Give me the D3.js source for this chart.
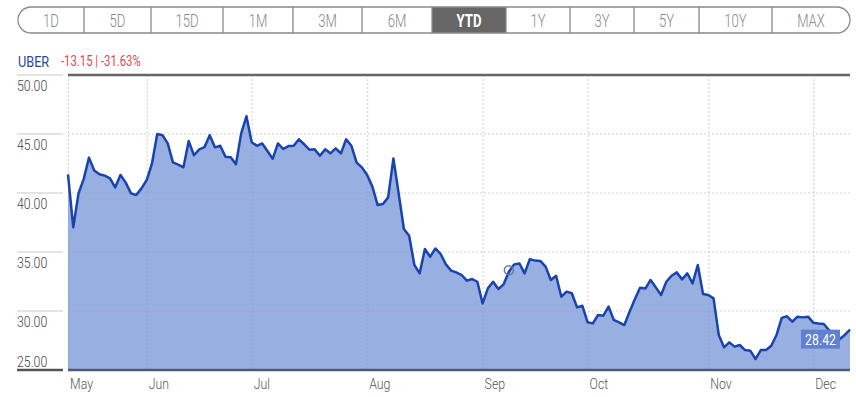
<!DOCTYPE html>
<html>
<head>
<meta charset="utf-8">
<script src="https://cdn.jsdelivr.net/npm/d3@7"></script>
<style>
  html, body { margin: 0; padding: 0; background: #fff; }
  svg { display: block; font-family: Roboto, 'Open Sans', sans-serif; }
</style>
</head>
<body>
<svg id="chart" width="856" height="397"></svg>
<script>
// data (one close per trading day, May 10 -> Dec 11)
const symbol = 'UBER';
const change = '-13.15 | -31.63%';
const closes = [
  41.57, 37.10, 39.96, 41.20, 43.00, 41.91, 41.59, 41.47, 41.24, 40.48,
  41.53, 40.88, 39.97, 39.83, 40.39, 41.10, 42.50, 45.00, 44.90, 44.20,
  42.60, 42.40, 42.18, 44.40, 43.20, 43.70, 43.88, 44.90, 43.87, 44.00,
  43.08, 43.03, 42.43, 45.05, 46.50, 44.30, 44.00, 44.20, 43.56, 42.90,
  44.20, 43.73, 43.98, 44.00, 44.55, 44.13, 43.67, 43.70, 43.16, 43.70,
  43.36, 43.78, 43.36, 44.55, 44.00, 42.57, 42.17, 41.53, 40.54, 38.98,
  39.07, 39.63, 42.93, 39.97, 36.95, 36.38, 33.90, 33.19, 35.25, 34.60,
  35.30, 34.83, 33.95, 33.42, 33.27, 33.05, 32.57, 32.71, 32.48, 30.64,
  31.92, 32.48, 31.86, 32.26, 33.33, 33.95, 34.03, 33.19, 34.40, 34.27,
  34.24, 33.76, 32.63, 32.99, 31.21, 31.64, 31.50, 30.31, 30.45, 29.04,
  28.95, 29.66, 29.60, 30.37, 29.24, 29.04, 28.81, 29.94, 30.99, 31.97,
  31.90, 32.63, 32.00, 31.36, 32.48, 32.99, 33.27, 32.68, 33.19, 32.34,
  33.90, 31.44, 31.36, 31.07, 27.97, 26.92, 27.34, 26.98, 27.12, 26.69,
  26.64, 25.93, 26.69, 26.69, 27.06, 27.97, 29.42, 29.55, 29.09, 29.52,
  29.46, 29.52, 29.01, 28.95, 28.90, 28.39, 27.82, 27.60, 27.97, 28.42
];
// first trading day of each month, as index into closes
const monthLabels = ['May', 'Jun', 'Jul', 'Aug', 'Sep', 'Oct', 'Nov', 'Dec'];
const monthStart = [0, 15, 35, 57, 79, 99, 122, 142];
const yTicks = [50, 45, 40, 35, 30, 25];
const ranges = ['1D', '5D', '15D', '1M', '3M', '6M', 'YTD', '1Y', '3Y', '5Y', '10Y', 'MAX'];
const activeRange = 'YTD';
const markerIndex = 84;

const svg = d3.select('#chart');

// sizing
const margin = { top: 75, right: 6, bottom: 27, left: 68 };
const width = 856, height = 397;
const labelLeft = 17;

const x = d3.scaleLinear()
  .domain([0, closes.length - 1])
  .range([margin.left, width - margin.right]);

const y = d3.scaleLinear()
  .domain([25, 50])
  .range([height - margin.bottom, margin.top]);

// condensed light text: Roboto squeezed horizontally
function label(g, px, py, str, opt) {
  const o = Object.assign({ size: 15, sx: 0.82, anchor: 'start', fill: '#444', weight: 300 }, opt || {});
  return g.append('text')
    .attr('transform', `translate(${px},${py}) scale(${o.sx},1)`)
    .attr('text-anchor', o.anchor)
    .attr('font-size', o.size)
    .attr('font-weight', o.weight)
    .attr('fill', o.fill)
    .text(str);
}

// range buttons
const btnEdges = [18, 84, 151, 223, 293, 362, 432, 506, 570, 634, 699, 772, 850];
const btnTop = 7, btnH = 26;
const btn = svg.append('g');
const ai = ranges.indexOf(activeRange);
btn.append('rect')
  .attr('x', btnEdges[ai]).attr('y', btnTop)
  .attr('width', btnEdges[ai + 1] - btnEdges[ai]).attr('height', btnH)
  .attr('fill', '#666');
btn.append('rect')
  .attr('x', btnEdges[0]).attr('y', btnTop)
  .attr('width', btnEdges[12] - btnEdges[0]).attr('height', btnH)
  .attr('rx', 13)
  .attr('fill', 'none')
  .attr('stroke', '#8a8a8a')
  .attr('stroke-width', 1.3);
btnEdges.slice(1, -1).forEach(e => {
  btn.append('line')
    .attr('x1', e).attr('x2', e)
    .attr('y1', btnTop).attr('y2', btnTop + btnH)
    .attr('stroke', '#8a8a8a')
    .attr('stroke-width', 1.3);
});
ranges.forEach((r, i) => {
  const cx = (btnEdges[i] + btnEdges[i + 1]) / 2;
  const active = r === activeRange;
  label(btn, cx, 27, r, {
    size: 18, sx: 0.73, anchor: 'middle',
    fill: active ? '#fff' : '#888',
    weight: active ? 700 : 300
  });
});

// legend
label(svg, 18, 67, symbol, { fill: '#234a9b', weight: 400, size: 15.5 });
label(svg, 61, 66, change, { fill: '#e04850', weight: 400, size: 14.5, sx: 0.78 });

// area + line
const area = d3.area()
  .x((d, i) => x(i))
  .y0(y(25))
  .y1(d => y(d));

const line = d3.line()
  .x((d, i) => x(i))
  .y(d => y(d));

svg.append('path')
  .datum(closes)
  .attr('fill', '#98afe2')
  .attr('d', area);

// grid
const grid = svg.append('g');
grid.selectAll('line.h')
  .data(yTicks.filter(t => t > 25 && t < 50))
  .enter()
  .append('line')
  .attr('x1', margin.left).attr('x2', width - margin.right)
  .attr('y1', d => y(d)).attr('y2', d => y(d))
  .attr('stroke', '#9a9a9a')
  .attr('stroke-opacity', .45)
  .attr('stroke-dasharray', '2,2');
grid.selectAll('line.v')
  .data(monthStart)
  .enter()
  .append('line')
  .attr('x1', d => x(d) + .5).attr('x2', d => x(d) + .5)
  .attr('y1', margin.top).attr('y2', y(25))
  .attr('stroke', '#9a9a9a')
  .attr('stroke-opacity', .45)
  .attr('stroke-dasharray', '2,2');

svg.append('path')
  .datum(closes)
  .attr('fill', 'none')
  .attr('stroke', '#1a44ad')
  .attr('stroke-width', 2.5)
  .attr('stroke-linejoin', 'round')
  .attr('d', line);

// y axis: short solid ticks left of the plot, labels under them
const yAxis = svg.append('g');
yTicks.forEach(t => {
  const edge = t === 25;
  yAxis.append('line')
    .attr('x1', labelLeft).attr('x2', margin.left - 5)
    .attr('y1', y(t)).attr('y2', y(t))
    .attr('stroke', edge ? '#555' : '#c8c8c8')
    .attr('stroke-width', edge ? 2.5 : 1.2);
  label(yAxis, labelLeft, edge ? y(t) - 3 : y(t) + 16, d3.format('.2f')(t));
});

// frame top / bottom
svg.append('line')
  .attr('x1', margin.left).attr('x2', width - margin.right)
  .attr('y1', margin.top).attr('y2', margin.top)
  .attr('stroke', '#666').attr('stroke-width', 2.5);
svg.append('line')
  .attr('x1', margin.left).attr('x2', width - margin.right)
  .attr('y1', y(25)).attr('y2', y(25))
  .attr('stroke', '#4b5b80').attr('stroke-width', 2.5);

// month labels
monthStart.forEach((m, i) => {
  label(svg, x(m) + 2, 389, monthLabels[i], { fill: '#555' });
});

// event marker
svg.append('circle')
  .attr('cx', x(markerIndex))
  .attr('cy', y(closes[markerIndex]) - 1.5)
  .attr('r', 4.5)
  .attr('fill', 'none')
  .attr('stroke', '#6378a8')
  .attr('stroke-width', 1.5);

// last value tag
const last = closes[closes.length - 1];
const tagW = 39, tagH = 19, tagRight = width - margin.right - 10;
svg.append('rect')
  .attr('x', tagRight - tagW).attr('y', y(last))
  .attr('width', tagW).attr('height', tagH)
  .attr('fill', '#5f80d3');
label(svg, tagRight - tagW / 2, y(last) + 15, d3.format('.2f')(last), { anchor: 'middle', fill: '#fff', weight: 400 });
</script>
</body>
</html>
